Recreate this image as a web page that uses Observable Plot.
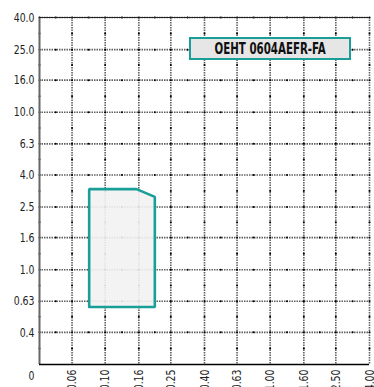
<!DOCTYPE html>
<html>
<head>
<meta charset="utf-8">
<script src="https://cdn.jsdelivr.net/npm/d3@7"></script>
<script src="https://cdn.jsdelivr.net/npm/@observablehq/plot@0.6"></script>
<style>
  html, body { margin: 0; padding: 0; background: #fff; }
  #wrap { position: relative; width: 374px; height: 387px; overflow: hidden; }
  #legend {
    position: absolute; left: 189px; top: 37px; width: 162px; height: 23px;
    box-sizing: border-box; background: #e6e6e6; border: 2px solid #1a9e98;
    font-family: "DejaVu Sans Condensed", "DejaVu Sans", sans-serif;
    font-weight: bold; font-size: 15px; color: #111;
    display: flex; align-items: center; justify-content: center;
  }
  #legend span { display: inline-block; transform: scaleX(0.76); white-space: nowrap; }
</style>
</head>
<body>
<div id="wrap"><div id="legend"><span id="legendText"></span></div></div>
<script>
// ---- data ----
const seriesName = "OEHT 0604AEFR-FA";
// x axis: feed (Renard R5 steps), labels as printed
const xTickValues = [0.063, 0.1, 0.16, 0.25, 0.4, 0.63, 1.0, 1.6, 2.5, 4.0];
const xTickLabels = ["0.06", "0.10", "0.16", "0.25", "0.40", "0.63", "1.00", "1.60", "2.50", "4.00"];
const xDomain = [0.04, 4.0];
// y axis
const yTickValues = [0.25, 0.4, 0.63, 1.0, 1.6, 2.5, 4.0, 6.3, 10, 16, 25, 40];
const yTickLabels = ["0", "0.4", "0.63", "1.0", "1.6", "2.5", "4.0", "6.3", "10.0", "16.0", "25.0", "40.0"];
const yDomain = [0.25, 40];
// application area polygon
const areaX = [0.08, 0.08, 0.155, 0.2, 0.2];
const areaY = [0.58, 3.25, 3.25, 2.9, 0.58];

// ---- build ----
const area = areaX.map((x, i) => ({x, y: areaY[i]}));
area.push(area[0]);
const xGrid = [xDomain[0], ...xTickValues];
const yGrid = yTickValues.slice();
const xHalf = [];
for (let i = 0; i < xGrid.length; i++) {
  xHalf.push(xGrid[i]);
  if (i < xGrid.length - 1) xHalf.push(Math.sqrt(xGrid[i] * xGrid[i + 1]));
}
const yHalf = [];
for (let i = 0; i < yGrid.length - 1; i++) yHalf.push(Math.sqrt(yGrid[i] * yGrid[i + 1]));
const hDots = [];
for (const y of yGrid.slice(1)) for (const x of xHalf) hDots.push({x, y});
const vDots = [];
for (const x of xGrid) for (const y of yHalf) vDots.push({x, y});

const xTicks = xTickValues.map((v, i) => ({v, label: xTickLabels[i]}));
const yTicks = yTickValues.slice(1).map((v, i) => ({v, label: yTickLabels[i + 1]}));
const yZero = [{v: yTickValues[0], label: yTickLabels[0]}];
const hRules = yGrid.slice(1).map(v => ({v}));
const vRules = xGrid.slice(1).map(v => ({v}));

const font = '"DejaVu Sans Condensed", "DejaVu Sans", sans-serif';
const gridStyle = {stroke: "#444", strokeWidth: 1.6, strokeDasharray: "1.5,1", strokeOpacity: 0.85};

const chart = Plot.plot({
  width: 374,
  height: 387,
  marginLeft: 39,
  marginRight: 5,
  marginTop: 17,
  marginBottom: 23,
  style: {fontFamily: font, fontSize: "13px", color: "#222", background: "#fff", overflow: "visible"},
  x: {type: "log", domain: xDomain, axis: null},
  y: {type: "log", domain: yDomain, axis: null},
  marks: [
    Plot.ruleY(hRules, {y: "v", ...gridStyle}),
    Plot.ruleX(vRules, {x: "v", ...gridStyle}),
    Plot.dot(hDots, {x: "x", y: "y", r: 1, fill: "#000", stroke: null}),
    Plot.dot(vDots, {x: "x", y: "y", r: 1, fill: "#000", stroke: null}),
    Plot.line(area, {x: "x", y: "y", fill: "#f2f2f2", fillOpacity: 0.9, stroke: "#1a9e98", strokeWidth: 2.6, strokeLinejoin: "miter"}),
    Plot.ruleX([xDomain[0]], {stroke: "#666", strokeWidth: 2}),
    Plot.ruleY([yDomain[0]], {stroke: "#000", strokeWidth: 1.5}),
    Plot.ruleY([yDomain[1]], {stroke: "#222", strokeWidth: 1.2}),
    Plot.text(yTicks, {x: xDomain[0], y: "v", text: "label", textAnchor: "end", dx: -5, fontSize: 13, fill: "#222", className: "tlab"}),
    Plot.text(yZero, {x: xDomain[0], y: "v", text: "label", textAnchor: "end", dx: -5, dy: 11, fontSize: 13, fill: "#222", className: "tlab"}),
    Plot.text(xTicks, {x: "v", y: yDomain[0], text: "label", textAnchor: "end", rotate: -90, dy: 5, fontSize: 13, fill: "#222", className: "tlab"})
  ]
});
// condense the tick label glyphs horizontally (along the text direction)
chart.querySelectorAll(".tlab text").forEach(el => {
  const t = el.getAttribute("transform");
  if (t) el.setAttribute("transform", t + " scale(0.8,1)");
});
document.getElementById("wrap").prepend(chart);
document.getElementById("legendText").textContent = seriesName;
</script>
</body>
</html>
